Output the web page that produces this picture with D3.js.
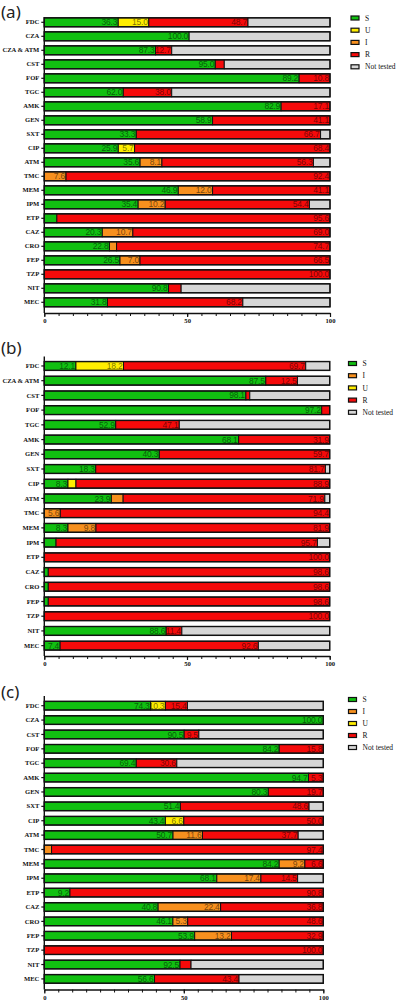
<!DOCTYPE html>
<html>
<head>
<meta charset="utf-8">
<script src="https://cdn.jsdelivr.net/npm/d3@7"></script>
<style>
  body { margin: 0; background: #fff; }
  svg { display: block; }
</style>
</head>
<body>
<script>
// ---- data (percent of tested isolates; "tested" = share of all isolates tested) ----
const catsA = ["FDC", "CZA", "CZA & ATM", "CST", "FOF", "TGC", "AMK", "GEN", "SXT", "CIP", "ATM",
               "TMC", "MEM", "IPM", "ETP", "CAZ", "CRO", "FEP", "TZP", "NIT", "MEC"];
const sA = [36.3, 100.0, 87.3, 95.0, 89.2, 62.0, 82.9, 58.9, 33.3, 25.9, 35.6, 0, 46.9, 35.4, 4.4, 20.3, 22.8, 26.5, 0, 90.8, 31.8];
const uA = [15.0, 0, 0, 0, 0, 0, 0, 0, 0, 5.7, 0, 0, 0, 0, 0, 0, 0, 0, 0, 0, 0];
const iA = [0, 0, 0, 0, 0, 0, 0, 0, 0, 0, 8.1, 7.6, 12.0, 10.2, 0, 10.7, 2.5, 7.0, 0, 0, 0];
const rA = [48.7, 0, 12.7, 5.0, 10.8, 38.0, 17.1, 41.1, 66.7, 68.4, 56.3, 92.4, 41.1, 54.4, 95.6, 69.0, 74.7, 66.5, 100.0, 9.2, 68.2];
const testedA = [71.3, 50.7, 44.6, 63.0, 100, 44.6, 100, 100, 96.7, 100, 94.2, 100, 100, 92.8, 100, 100, 100, 100, 100, 47.9, 69.5];

const catsB = ["FDC", "CZA & ATM", "CST", "FOF", "TGC", "AMK", "GEN", "SXT", "CIP", "ATM",
               "TMC", "MEM", "IPM", "ETP", "CAZ", "CRO", "FEP", "TZP", "NIT", "MEC"];
const sB = [12.1, 87.5, 98.1, 97.2, 52.9, 68.1, 40.3, 18.3, 8.3, 23.9, 0, 8.3, 4.3, 0, 1.4, 1.4, 1.4, 0, 88.6, 7.4];
const uB = [18.2, 0, 0, 0, 0, 0, 0, 0, 2.8, 0, 0, 0, 0, 0, 0, 0, 0, 0, 0, 0];
const iB = [0, 0, 0, 0, 0, 0, 0, 0, 0, 4.2, 5.6, 9.8, 0, 0, 0, 0, 0, 0, 0, 0];
const rB = [69.7, 12.5, 1.9, 2.8, 47.1, 31.9, 59.7, 81.7, 88.9, 71.9, 94.4, 81.9, 95.7, 100.0, 98.6, 98.6, 98.6, 100.0, 11.4, 92.6];
const testedB = [91.6, 88.7, 72.0, 100, 47.3, 100, 100, 98.5, 100, 98.3, 100, 100, 95.7, 100, 100, 100, 100, 100, 48.2, 75.0];

const catsC = ["FDC", "CZA", "CST", "FOF", "TGC", "AMK", "GEN", "SXT", "CIP", "ATM",
               "TMC", "MEM", "IPM", "ETP", "CAZ", "CRO", "FEP", "TZP", "NIT", "MEC"];
const sC = [74.3, 100.0, 90.5, 84.2, 69.4, 94.7, 80.3, 51.4, 43.4, 50.7, 0, 84.2, 68.1, 9.2, 40.8, 46.1, 53.9, 0, 92.5, 56.6];
const uC = [10.3, 0, 0, 0, 0, 0, 0, 0, 6.6, 0, 0, 0, 0, 0, 0, 0, 0, 0, 0, 0];
const iC = [0, 0, 0, 0, 0, 0, 0, 0, 0, 11.6, 2.6, 9.2, 17.4, 0, 22.4, 5.3, 13.2, 0, 0, 0];
const rC = [15.4, 0, 9.5, 15.8, 30.6, 5.3, 19.7, 48.6, 50.0, 37.7, 97.4, 6.6, 14.5, 90.8, 36.8, 48.6, 32.9, 100.0, 7.5, 43.4];
const testedC = [51.3, 100, 55.4, 100, 47.5, 100, 100, 94.9, 100, 91.0, 100, 100, 90.8, 100, 100, 100, 100, 100, 52.6, 69.8];

const xTicks = [0, 50, 100];
const legendA = ["S", "U", "I", "R", "Not tested"];
const legendBC = ["S", "I", "U", "R", "Not tested"];

// colours
var color = d3.scaleOrdinal()
    .domain(["S", "U", "I", "R", "Not tested"])
    .range(["#11c011", "#ffee00", "#f7901e", "#f50a0a", "#d6d6d6"]);

var svg = d3.select("body").append("svg")
    .attr("width", 397)
    .attr("height", 1000);

function drawPanel(p) {
    var g = svg.append("g");

    var x = d3.scaleLinear().domain([0, 100]).range([p.x0, p.x1]);
    var y = d3.scaleBand()
        .domain(p.cats)
        .range([p.top, p.top + p.cats.length * p.step])
        .paddingInner(p.pad)
        .paddingOuter(p.pad / 2);

    // build stacked segments: share of all isolates
    var rows = p.cats.map(function(c, i) {
        var t = p.tested[i] / 100;
        var parts = [["S", p.s[i]], ["U", p.u[i]], ["I", p.i[i]], ["R", p.r[i]]];
        var x0 = 0, segs = [];
        parts.forEach(function(q) {
            if (q[1] > 0) {
                segs.push({key: q[0], label: q[1], a: x0, b: x0 + q[1] * t});
                x0 += q[1] * t;
            }
        });
        if (p.tested[i] < 100) segs.push({key: "Not tested", label: null, a: x0, b: 100});
        return {cat: c, segs: segs};
    });

    var bar = g.selectAll(".bar")
        .data(rows)
        .enter().append("g")
        .attr("class", "bar")
        .attr("transform", function(d) { return "translate(0," + y(d.cat) + ")"; });

    bar.selectAll("rect")
        .data(function(d) { return d.segs; })
        .enter().append("rect")
        .attr("x", function(d) { return x(d.a); })
        .attr("width", function(d) { return x(d.b) - x(d.a); })
        .attr("height", y.bandwidth())
        .style("fill", function(d) { return color(d.key); })
        .style("stroke", "#111")
        .style("stroke-width", 1);

    // outline of the full bar
    bar.append("rect")
        .attr("x", x(0))
        .attr("width", x(100) - x(0))
        .attr("height", y.bandwidth())
        .style("fill", "none")
        .style("stroke", "#111")
        .style("stroke-width", 1.4);

    // value labels at the right end of each wide enough segment
    bar.selectAll("text")
        .data(function(d) { return d.segs.filter(function(s) { return s.label != null && x(s.b) - x(s.a) > 13.5; }); })
        .enter().append("text")
        .attr("x", function(d) { return x(d.b) - 1; })
        .attr("y", y.bandwidth() / 2)
        .attr("dy", "0.36em")
        .attr("text-anchor", "end")
        .style("font", "8.5px 'Liberation Sans', sans-serif")
        .style("letter-spacing", "-0.2px")
        .style("fill", "#000")
        .style("fill-opacity", 0.55)
        .text(function(d) { return d.label.toFixed(1); });

    // left axis
    var yAxis = g.append("g")
        .attr("transform", "translate(" + p.x0 + ",0)")
        .call(d3.axisLeft(y).tickSize(3).tickPadding(2));
    yAxis.select(".domain").remove();
    yAxis.selectAll("line").style("stroke", "#111").style("stroke-width", 1.2);
    yAxis.selectAll("text")
        .style("font", "bold 6.6px 'Liberation Serif', serif")
        .style("fill", "#111");
    g.append("line")
        .attr("x1", p.x0).attr("x2", p.x0)
        .attr("y1", p.axisTop).attr("y2", p.axisY)
        .style("stroke", "#111").style("stroke-width", 1.4);

    // bottom axis: minor ticks every 5, labelled major ticks
    var minor = g.append("g")
        .attr("transform", "translate(0," + p.axisY + ")")
        .call(d3.axisBottom(x).tickValues(d3.range(0, 101, 5)).tickSize(3).tickFormat(""));
    minor.select(".domain").remove();
    minor.selectAll("line").style("stroke", "#111").style("stroke-width", 1);

    var major = g.append("g")
        .attr("transform", "translate(0," + p.axisY + ")")
        .call(d3.axisBottom(x).tickValues(xTicks).tickSize(4).tickSizeOuter(0).tickPadding(1.5));
    major.select(".domain").style("stroke", "#111").style("stroke-width", 1.4);
    major.selectAll("line").style("stroke", "#111").style("stroke-width", 1.2);
    major.selectAll("text")
        .style("font", "bold 6.6px 'Liberation Serif', serif")
        .style("fill", "#111");

    // panel tag
    svg.append("text")
        .attr("x", 1)
        .attr("y", p.tagY)
        .style("font", "17px 'Noto Sans', sans-serif")
        .style("fill", "#222")
        .text(p.tag);

    // legend
    var legend = g.selectAll(".legend")
        .data(p.legend)
        .enter().append("g")
        .attr("class", "legend")
        .attr("transform", function(d, i) { return "translate(" + p.legX + "," + (p.legY + i * p.legStep) + ")"; });

    legend.append("rect")
        .attr("x", 0)
        .attr("y", -2)
        .attr("width", 8)
        .attr("height", 4)
        .style("fill", color)
        .style("stroke", "#111")
        .style("stroke-width", 1.2);

    legend.append("text")
        .attr("x", 14)
        .attr("y", 0)
        .attr("dy", "0.35em")
        .style("font", "7.5px 'Liberation Serif', serif")
        .style("fill", "#111")
        .text(function(d) { return d; });
}

drawPanel({cats: catsA, s: sA, u: uA, i: iA, r: rA, tested: testedA,
    x0: 44.3, x1: 330, top: 15.3, step: 14, pad: 0.36, axisTop: 17, axisY: 313,
    tag: "(a)", tagY: 18, legend: legendA, legX: 351, legY: 18, legStep: 12.2});

drawPanel({cats: catsB, s: sB, u: uB, i: iB, r: rB, tested: testedB,
    x0: 44.3, x1: 329.7, top: 358.6, step: 14.72, pad: 0.4, axisTop: 356.5, axisY: 656,
    tag: "(b)", tagY: 354, legend: legendBC, legX: 348.5, legY: 363.5, legStep: 12.2});

drawPanel({cats: catsC, s: sC, u: uC, i: iC, r: rC, tested: testedC,
    x0: 44.3, x1: 323.3, top: 698.5, step: 14.38, pad: 0.4, axisTop: 696, axisY: 989.5,
    tag: "(c)", tagY: 698, legend: legendBC, legX: 348.5, legY: 699.5, legStep: 12});
</script>
</body>
</html>
